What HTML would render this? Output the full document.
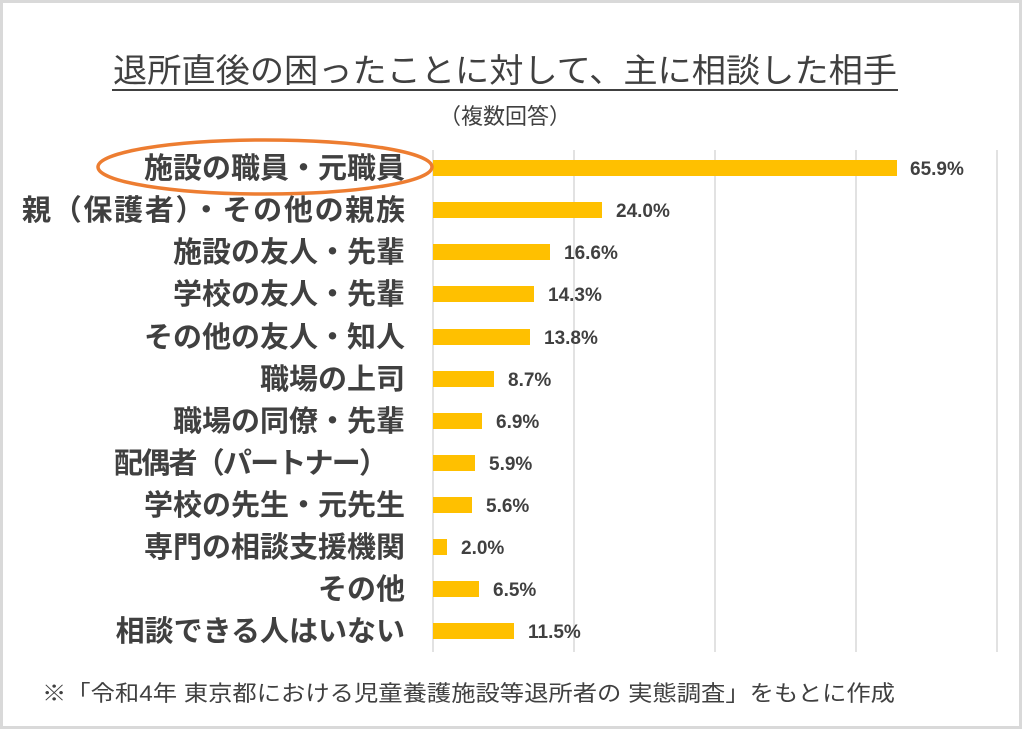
<!DOCTYPE html>
<html><head><meta charset="utf-8"><style>
html,body{margin:0;padding:0;background:#fff}
svg{display:block}
text{font-family:"Liberation Sans","Noto Sans CJK JP",sans-serif;fill:#404040}
</style></head><body>
<svg width="1024" height="731" viewBox="0 0 1024 731">
<rect x="1.5" y="1.5" width="1019" height="726" fill="#fff" stroke="#d9d9d9" stroke-width="3"/>
<text x="113" y="82" font-size="33" textLength="784" lengthAdjust="spacingAndGlyphs">退所直後の困ったことに対して、主に相談した相手</text>
<line x1="112" y1="90" x2="898" y2="90" stroke="#404040" stroke-width="2"/>
<text x="505" y="124" font-size="22" text-anchor="middle">（複数回答）</text>
<g stroke="#d9d9d9" stroke-width="1.5">
<line x1="433" y1="150" x2="433" y2="652"/>
<line x1="574" y1="150" x2="574" y2="652"/>
<line x1="715" y1="150" x2="715" y2="652"/>
<line x1="856" y1="150" x2="856" y2="652"/>
<line x1="997" y1="150" x2="997" y2="652"/>
</g>
<g fill="#ffc000">
<rect x="433" y="160" width="464" height="16"/>
<rect x="433" y="202" width="169" height="16"/>
<rect x="433" y="244" width="117" height="16"/>
<rect x="433" y="286" width="101" height="16"/>
<rect x="433" y="329" width="97" height="16"/>
<rect x="433" y="371" width="61" height="16"/>
<rect x="433" y="413" width="49" height="16"/>
<rect x="433" y="455" width="42" height="16"/>
<rect x="433" y="497" width="39" height="16"/>
<rect x="433" y="539" width="14" height="16"/>
<rect x="433" y="581" width="46" height="16"/>
<rect x="433" y="623" width="81" height="16"/>
</g>
<g font-size="19" font-weight="bold">
<text x="910" y="175">65.9%</text>
<text x="616" y="217">24.0%</text>
<text x="564" y="259">16.6%</text>
<text x="548" y="301">14.3%</text>
<text x="544" y="344">13.8%</text>
<text x="508" y="386">8.7%</text>
<text x="496" y="428">6.9%</text>
<text x="489" y="470">5.9%</text>
<text x="486" y="512">5.6%</text>
<text x="461" y="554">2.0%</text>
<text x="493" y="596">6.5%</text>
<text x="528" y="638">11.5%</text>
</g>
<g font-size="29" font-weight="bold" text-anchor="end">
<text x="405" y="178">施設の職員・元職員</text>
<text x="22" y="220" text-anchor="start" textLength="383" lengthAdjust="spacing">親（保護者）・その他の親族</text>
<text x="405" y="262">施設の友人・先輩</text>
<text x="405" y="304">学校の友人・先輩</text>
<text x="405" y="347">その他の友人・知人</text>
<text x="405" y="389">職場の上司</text>
<text x="405" y="431">職場の同僚・先輩</text>
<text x="114" y="473" text-anchor="start" textLength="274" lengthAdjust="spacing">配偶者（パートナー）</text>
<text x="405" y="515">学校の先生・元先生</text>
<text x="405" y="557">専門の相談支援機関</text>
<text x="405" y="599">その他</text>
<text x="405" y="641">相談できる人はいない</text>
</g>
<ellipse cx="265" cy="167" rx="167" ry="27" fill="none" stroke="#ed7d31" stroke-width="3.5"/>
<text x="42" y="701" font-size="22" textLength="853" lengthAdjust="spacingAndGlyphs">※「令和4年 東京都における児童養護施設等退所者の 実態調査」をもとに作成</text>
</svg>
</body></html>
